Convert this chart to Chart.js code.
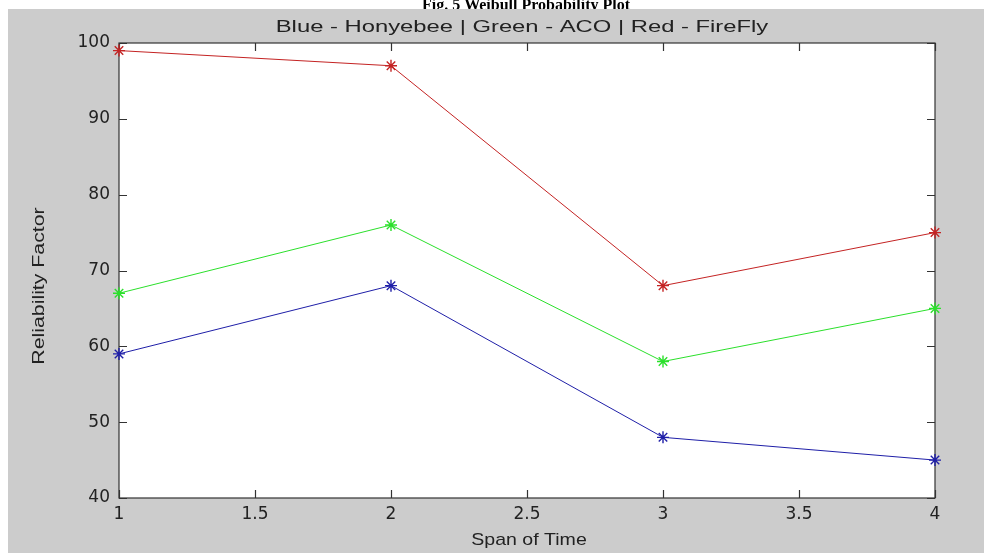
<!DOCTYPE html>
<html>
<head>
<meta charset="utf-8">
<script src="https://cdn.jsdelivr.net/npm/chart.js@4.4.1/dist/chart.umd.min.js"></script>
<style>
  html, body { margin: 0; padding: 0; background: #fff; }
  #wrap { width: 984px; height: 556px; }
</style>
</head>
<body>
<div id="wrap"><canvas id="myChart" width="984" height="556"></canvas></div>
<script>
// 데이터
const spans = [1, 2, 3, 4];
const honeybee = [59, 68, 48, 45];
const aco = [67, 76, 58, 65];
const firefly = [99, 97, 68, 75];
const xTicks = [1, 1.5, 2, 2.5, 3, 3.5, 4];
const yTicks = [40, 50, 60, 70, 80, 90, 100];

const figTitle = 'Fig. 5 Weibull Probability Plot';
const subTitle = 'Blue - Honyebee | Green - ACO | Red - FireFly';
const xTitle = 'Span of Time';
const yTitle = 'Reliability Factor';

const sansFont = '"Liberation Sans", Arial, sans-serif';

function toPoints(ys) {
	return spans.map((x, i) => ({ x: x, y: ys[i] }));
}

// 가로로 늘린 글자 (원본 글꼴이 넓음)
function wideText(c, text, x, y, size, stretch, rot) {
	c.save();
	c.translate(x, y);
	if (rot) c.rotate(rot);
	c.scale(stretch, 1);
	c.font = size + 'px ' + sansFont;
	c.fillStyle = '#222';
	c.textAlign = 'center';
	c.textBaseline = 'middle';
	c.fillText(text, 0, 0);
	c.restore();
}

// 배경, 박스, 안쪽 눈금
const matlabFrame = {
	id: 'matlabFrame',
	beforeDraw(chart) {
		const c = chart.ctx;
		const a = chart.chartArea;
		c.save();
		c.fillStyle = '#fff';
		c.fillRect(0, 0, chart.width, chart.height);
		c.fillStyle = '#000';
		c.font = 'bold 16px "Liberation Serif", "Times New Roman", serif';
		c.textAlign = 'center';
		c.textBaseline = 'alphabetic';
		c.fillText(figTitle, 526, 10);
		c.fillStyle = '#cccccc';
		c.fillRect(8, 9, chart.width - 8, 544);
		c.fillStyle = '#fff';
		c.fillRect(a.left, a.top, a.right - a.left, a.bottom - a.top);
		c.restore();

		const mid = (a.left + a.right) / 2;
		wideText(c, subTitle, mid - 5, 27, 17, 1.4, 0);
		wideText(c, xTitle, mid + 2, 540, 17, 1.15, 0);
		wideText(c, yTitle, 40, 286, 16, 1.33, -Math.PI / 2);
	},
	beforeDatasetsDraw(chart) {
		const c = chart.ctx;
		const a = chart.chartArea;
		const xs = chart.scales.x, ys = chart.scales.y;
		c.save();
		c.strokeStyle = '#333';
		c.lineWidth = 1.2;
		c.strokeRect(a.left, a.top, a.right - a.left, a.bottom - a.top);
		c.beginPath();
		xTicks.forEach(v => {
			const px = Math.round(xs.getPixelForValue(v)) + 0.5;
			c.moveTo(px, a.bottom); c.lineTo(px, a.bottom - 8);
			c.moveTo(px, a.top); c.lineTo(px, a.top + 8);
		});
		yTicks.forEach(v => {
			const py = Math.round(ys.getPixelForValue(v)) + 0.5;
			c.moveTo(a.left, py); c.lineTo(a.left + 8, py);
			c.moveTo(a.right, py); c.lineTo(a.right - 8, py);
		});
		c.stroke();
		c.restore();
	}
};

function series(label, ys, color) {
	return {
		label: label,
		data: toPoints(ys),
		borderColor: color,
		backgroundColor: color,
		borderWidth: 1,
		pointStyle: 'star',
		pointRadius: 6,
		pointBorderWidth: 1.4,
		pointBorderColor: color,
		tension: 0,
		clip: false
	};
}

const tickFont = { family: '"DejaVu Sans", sans-serif', size: 17 };

let ctx = document.getElementById('myChart').getContext('2d');
let myChart = new Chart(ctx, {
	type: 'line',
	data: {
		datasets: [
			series('Honeybee', honeybee, '#1f1fa8'),
			series('ACO', aco, '#2be02b'),
			series('FireFly', firefly, '#c42323')
		]
	},
	options: {
		responsive: false,
		animation: false,
		layout: { padding: { left: 0, right: 49, top: 43, bottom: 0 } },
		plugins: {
			legend: { display: false },
			tooltip: { enabled: false },
			title: { display: false }
		},
		scales: {
			x: {
				type: 'linear',
				min: 1, max: 4,
				afterBuildTicks: s => { s.ticks = xTicks.map(v => ({ value: v })); },
				afterFit: s => { s.height = 58; },
				grid: { display: false, drawTicks: false },
				border: { display: false },
				ticks: { color: '#222', font: tickFont, padding: 6, maxRotation: 0, callback: v => String(v) }
			},
			y: {
				min: 40, max: 100,
				afterBuildTicks: s => { s.ticks = yTicks.map(v => ({ value: v })); },
				afterFit: s => { s.width = 119; },
				grid: { display: false, drawTicks: false },
				border: { display: false },
				ticks: { color: '#222', font: tickFont, padding: 9, callback: v => String(v) }
			}
		}
	},
	plugins: [matlabFrame]
});
</script>
</body>
</html>
